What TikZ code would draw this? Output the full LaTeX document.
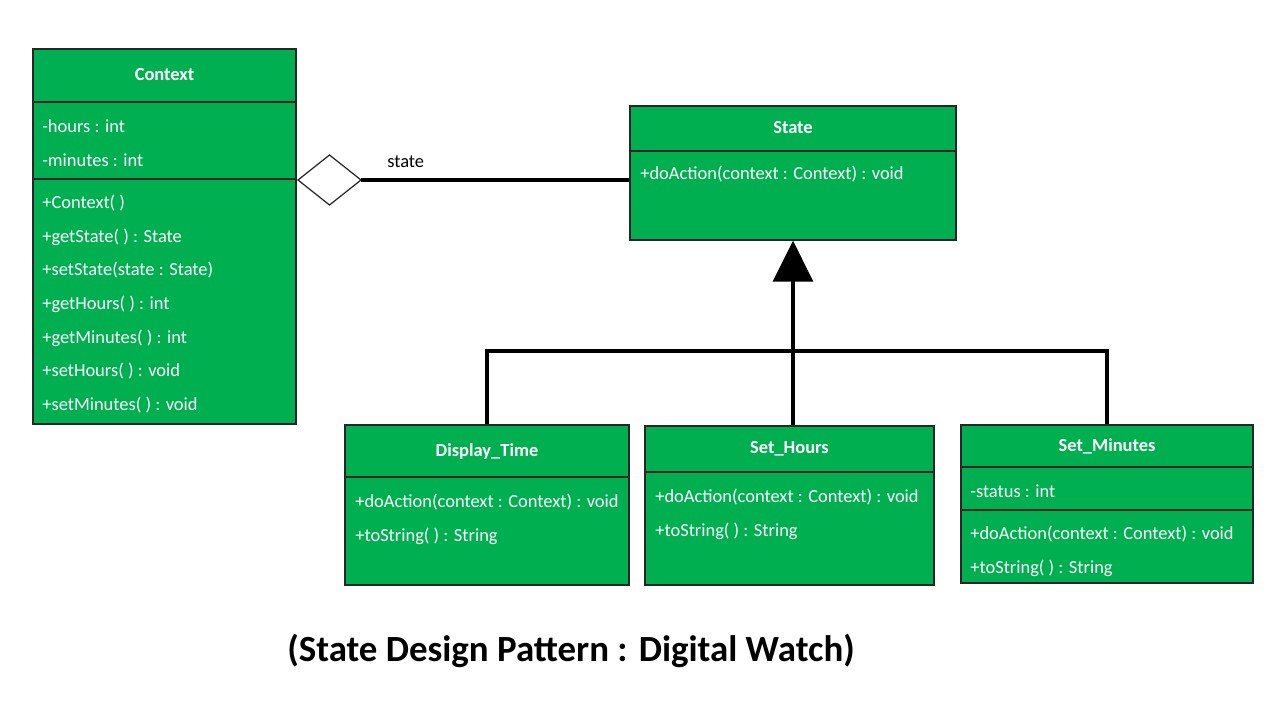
\documentclass[tikz,border=0pt]{standalone}
\usepackage{fontspec}
\setmainfont{Carlito}
\usetikzlibrary{arrows.meta,fit}
\definecolor{boxgreen}{HTML}{00B050}
\begin{document}
\begin{tikzpicture}[x=0.02cm,y=-0.02cm,
  box/.style={draw=black!85, fill=boxgreen, line width=0.75pt, inner sep=0pt},
  div/.style={draw=black!85, line width=0.75pt},
  attr/.style={anchor=west, text=white, inner sep=0pt, font=\fontsize{10.5}{12}\selectfont},
  ttl/.style={text=white, inner sep=0pt, font=\bfseries\fontsize{10.5}{12}\selectfont},
  conn/.style={draw=black, line width=1.8pt},
]
\useasboundingbox[fill=white] (0,0) rectangle (1280,720);

% Context
\node[box, fit={(33,49) (296,424)}] (ctx) {};
\draw[div] (33,102) -- (296,102);
\draw[div] (33,179) -- (296,179);
\node[ttl] (ctxt) at (164.5,75) {Context};
\node[attr] (c1) at (42,126) {-hours : int};
\node[attr] (c2) at (42,160) {-minutes : int};
\node[attr] (c3) at (42,203) {+Context( )};
\node[attr] (c4) at (42,237) {+getState( ) : State};
\node[attr] (c5) at (42,270) {+setState(state : State)};
\node[attr] (c6) at (42,304) {+getHours( ) : int};
\node[attr] (c7) at (42,338) {+getMinutes( ) : int};
\node[attr] (c8) at (42,371) {+setHours( ) : void};
\node[attr] (c9) at (42,405) {+setMinutes( ) : void};

% State
\node[box, fit={(630,106) (956,240)}] (st) {};
\draw[div] (630,151) -- (956,151);
\node[ttl] (stt) at (793,128) {State};
\node[attr] (s1) at (640,174) {+doAction(context : Context) : void};

% Display_Time
\node[box, fit={(345,425) (629,585)}] (dt) {};
\draw[div] (345,477) -- (629,477);
\node[ttl] (dtt) at (487,451) {Display\_Time};
\node[attr] (d1) at (355,502) {+doAction(context : Context) : void};
\node[attr] (d2) at (355,536) {+toString( ) : String};

% Set_Hours
\node[box, fit={(645,426) (934,585)}] (sh) {};
\draw[div] (645,472) -- (934,472);
\node[ttl] (sht) at (789.5,449) {Set\_Hours};
\node[attr] (h1) at (655,497) {+doAction(context : Context) : void};
\node[attr] (h2) at (655,531) {+toString( ) : String};

% Set_Minutes
\node[box, fit={(961,425) (1253,583)}] (sm) {};
\draw[div] (961,467) -- (1253,467);
\draw[div] (961,510) -- (1253,510);
\node[ttl] (smt) at (1107,446) {Set\_Minutes};
\node[attr] (m1) at (970,491) {-status : int};
\node[attr] (m2) at (970,534) {+doAction(context : Context) : void};
\node[attr] (m3) at (970,568) {+toString( ) : String};

% aggregation
\coordinate (aggA) at (298,180);
\coordinate (aggB) at (361,180);
\draw[line width=0.7pt, draw=black!85, fill=white] (aggA) -- (329.5,155) -- (aggB) -- (329.5,205) -- cycle;
\draw[conn] (aggB) -- (st.west |- aggB);
\node[anchor=west, inner sep=0pt, font=\fontsize{10.5}{12}\selectfont] (lbl) at (387,162) {state};

% inheritance
\coordinate (hub) at (793,351);
\draw[conn, -{Triangle[length=0.82cm, width=0.8cm]}] (hub) -- (st.south -| hub);
\draw[conn] (dt.north) |- (hub) -| (sm.north);
\draw[conn] (hub) -- (sh.north -| hub);

% caption
\node[inner sep=0pt, font=\bfseries\fontsize{21}{24}\selectfont] (cap) at (571,651) {(State Design Pattern : Digital Watch)};
\end{tikzpicture}
\end{document}
